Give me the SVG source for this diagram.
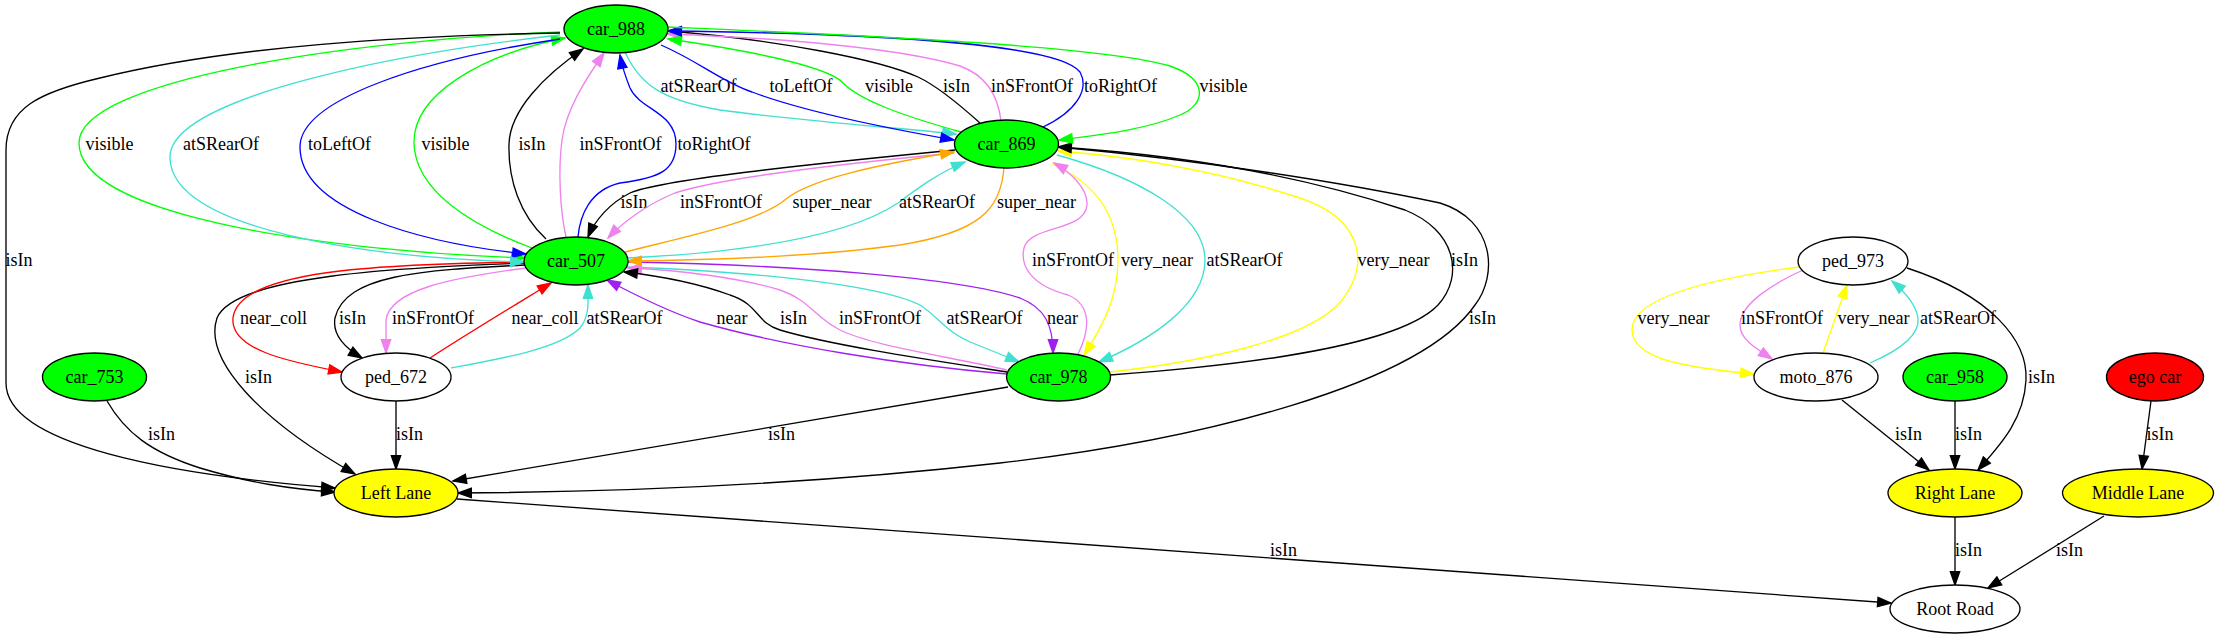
<svg xmlns="http://www.w3.org/2000/svg" width="2218" height="639" viewBox="0 0 2218 639">
<style>
.n ellipse{stroke:#000;stroke-width:1.33}
.t{font-family:"Liberation Serif","Times New Roman",serif;font-size:18px;text-anchor:middle;fill:#000}
.e path{fill:none;stroke-width:1.33}
.k{stroke:#000;marker-end:url(#ak)}
.g{stroke:#00ff00;marker-end:url(#ag)}
.q{stroke:#40e0d0;marker-end:url(#aq)}
.b{stroke:#0000ff;marker-end:url(#ab)}
.v{stroke:#ee82ee;marker-end:url(#av)}
.o{stroke:#ffa500;marker-end:url(#ao)}
.p{stroke:#a020f0;marker-end:url(#ap)}
.r{stroke:#ff0000;marker-end:url(#ar)}
.y{stroke:#ffff00;marker-end:url(#ay)}
</style>
<defs>
<marker id="ak" viewBox="0 0 13.33 9.33" refX="13.33" refY="4.67" markerWidth="13.33" markerHeight="9.33" markerUnits="userSpaceOnUse" orient="auto" overflow="visible"><polygon points="0,0 13.33,4.67 0,9.33" fill="#000" stroke="#000" stroke-width="1.33"/></marker>
<marker id="ag" viewBox="0 0 13.33 9.33" refX="13.33" refY="4.67" markerWidth="13.33" markerHeight="9.33" markerUnits="userSpaceOnUse" orient="auto" overflow="visible"><polygon points="0,0 13.33,4.67 0,9.33" fill="#00ff00" stroke="#00ff00" stroke-width="1.33"/></marker>
<marker id="aq" viewBox="0 0 13.33 9.33" refX="13.33" refY="4.67" markerWidth="13.33" markerHeight="9.33" markerUnits="userSpaceOnUse" orient="auto" overflow="visible"><polygon points="0,0 13.33,4.67 0,9.33" fill="#40e0d0" stroke="#40e0d0" stroke-width="1.33"/></marker>
<marker id="ab" viewBox="0 0 13.33 9.33" refX="13.33" refY="4.67" markerWidth="13.33" markerHeight="9.33" markerUnits="userSpaceOnUse" orient="auto" overflow="visible"><polygon points="0,0 13.33,4.67 0,9.33" fill="#0000ff" stroke="#0000ff" stroke-width="1.33"/></marker>
<marker id="av" viewBox="0 0 13.33 9.33" refX="13.33" refY="4.67" markerWidth="13.33" markerHeight="9.33" markerUnits="userSpaceOnUse" orient="auto" overflow="visible"><polygon points="0,0 13.33,4.67 0,9.33" fill="#ee82ee" stroke="#ee82ee" stroke-width="1.33"/></marker>
<marker id="ao" viewBox="0 0 13.33 9.33" refX="13.33" refY="4.67" markerWidth="13.33" markerHeight="9.33" markerUnits="userSpaceOnUse" orient="auto" overflow="visible"><polygon points="0,0 13.33,4.67 0,9.33" fill="#ffa500" stroke="#ffa500" stroke-width="1.33"/></marker>
<marker id="ap" viewBox="0 0 13.33 9.33" refX="13.33" refY="4.67" markerWidth="13.33" markerHeight="9.33" markerUnits="userSpaceOnUse" orient="auto" overflow="visible"><polygon points="0,0 13.33,4.67 0,9.33" fill="#a020f0" stroke="#a020f0" stroke-width="1.33"/></marker>
<marker id="ar" viewBox="0 0 13.33 9.33" refX="13.33" refY="4.67" markerWidth="13.33" markerHeight="9.33" markerUnits="userSpaceOnUse" orient="auto" overflow="visible"><polygon points="0,0 13.33,4.67 0,9.33" fill="#ff0000" stroke="#ff0000" stroke-width="1.33"/></marker>
<marker id="ay" viewBox="0 0 13.33 9.33" refX="13.33" refY="4.67" markerWidth="13.33" markerHeight="9.33" markerUnits="userSpaceOnUse" orient="auto" overflow="visible"><polygon points="0,0 13.33,4.67 0,9.33" fill="#ffff00" stroke="#ffff00" stroke-width="1.33"/></marker>
</defs>
<rect width="2218" height="639" fill="#fff"/>
<g id="edges" class="e">
<g id="e27"><path class="q" d="M625,52 C640,85 662,100 720,110 C800,121 900,128 956,134"/><text class="t" x="698.5" y="92">atSRearOf</text></g>
<g id="e30"><path class="k" d="M980,123 C960,105 935,85 918,77 C880,60 780,40 668,31"/><text class="t" x="956.5" y="92">isIn</text></g>
<g id="e31"><path class="v" d="M1001,121 C998,95 985,75 960,66 C900,48 780,38 668,34"/><text class="t" x="1032" y="92">inSFrontOf</text></g>
<g id="e14"><path class="y" d="M1110,372 C1200,362 1310,340 1342,300 C1372,262 1360,218 1300,198 C1230,175 1150,158 1058,151"/><text class="t" x="1393.5" y="266">very_near</text></g>
<g id="e40"><path class="g" d="M560,32 C350,40 79,80 79,143 C79,220 350,252 525,258"/><text class="t" x="109.5" y="150">visible</text></g>
<g id="e1"><path class="k" d="M560,33 C400,36 230,46 100,78 C40,92 6,108 6,150 L6,383 C6,445 170,475 335,488"/><text class="t" x="19" y="266">isIn</text></g>
<g id="e2"><path class="k" d="M107,401 C125,432 150,452 200,468 C250,483 290,489 335,492"/><text class="t" x="161.5" y="440">isIn</text></g>
<g id="e3"><path class="k" d="M525,263 C400,268 235,275 217,318 C203,360 260,420 355,474"/><text class="t" x="258.5" y="383">isIn</text></g>
<g id="e4"><path class="r" d="M525,262 C380,264 238,270 233,318 C230,350 290,362 342,372"/><text class="t" x="273.5" y="324">near_coll</text></g>
<g id="e5"><path class="k" d="M525,265 C420,270 345,275 335,318 C332,335 345,348 362,358"/><text class="t" x="352.5" y="324">isIn</text></g>
<g id="e6"><path class="v" d="M526,268 C450,278 390,290 386,320 L386,353"/><text class="t" x="433" y="324">inSFrontOf</text></g>
<g id="e7"><path class="r" d="M430,358 C470,332 520,302 551,283"/><text class="t" x="545" y="324">near_coll</text></g>
<g id="e8"><path class="q" d="M451,368 C505,358 560,348 580,328 C590,316 588,300 588,285"/><text class="t" x="624.5" y="324">atSRearOf</text></g>
<g id="e9"><path class="k" d="M396,401 L396,469"/><text class="t" x="409.5" y="440">isIn</text></g>
<g id="e10"><path class="k" d="M1008,387 L453,481"/><text class="t" x="781.5" y="440">isIn</text></g>
<g id="e11"><path class="k" d="M1058,147 C1200,160 1340,182 1440,203 C1495,220 1498,275 1475,305 C1420,385 1200,440 1000,463 C830,482 640,492 458,493"/><text class="t" x="1482.5" y="324">isIn</text></g>
<g id="e12"><path class="k" d="M1110,375 C1250,365 1400,345 1438,305 C1465,275 1455,230 1405,210 C1300,175 1180,155 1058,147"/><text class="t" x="1464.5" y="266">isIn</text></g>
<g id="e13"><path class="y" d="M1052,164 C1100,185 1118,220 1118,260 C1118,300 1100,330 1084,355"/><text class="t" x="1157" y="266">very_near</text></g>
<g id="e15"><path class="q" d="M1057,155 C1140,178 1205,215 1205,260 C1205,305 1150,340 1099,362"/><text class="t" x="1244.5" y="266">atSRearOf</text></g>
<g id="e16"><path class="v" d="M1078,354 C1090,330 1092,305 1068,295 C1030,285 1020,265 1024,248 C1030,225 1085,232 1087,205 C1088,188 1070,172 1054,163"/><text class="t" x="1073" y="266">inSFrontOf</text></g>
<g id="e17"><path class="p" d="M628,262 C800,265 960,278 1020,298 C1045,308 1053,325 1053,353"/><text class="t" x="1062.5" y="324">near</text></g>
<g id="e18"><path class="q" d="M627,267 C760,272 880,285 920,305 C940,318 945,332 975,344 C990,350 1005,356 1019,362"/><text class="t" x="984.5" y="324">atSRearOf</text></g>
<g id="e19"><path class="v" d="M1007,370 C940,355 870,345 840,330 C815,318 810,300 780,290 C740,278 680,270 628,268"/><text class="t" x="880" y="324">inSFrontOf</text></g>
<g id="e20"><path class="k" d="M1007,372 C930,360 830,345 780,330 C755,322 760,305 730,295 C700,284 660,276 624,272"/><text class="t" x="793.5" y="324">isIn</text></g>
<g id="e21"><path class="p" d="M1007,374 C900,365 780,345 700,322 C670,312 635,295 607,280"/><text class="t" x="732" y="324">near</text></g>
<g id="e22"><path class="k" d="M955,150 C800,165 660,180 630,193 C610,203 595,220 588,237"/><text class="t" x="634" y="208">isIn</text></g>
<g id="e23"><path class="v" d="M954,153 C850,163 720,178 675,193 C650,203 625,220 608,238"/><text class="t" x="721" y="208">inSFrontOf</text></g>
<g id="e24"><path class="o" d="M625,252 C680,238 760,222 786,199 C810,180 870,166 954,152"/><text class="t" x="832" y="208">super_near</text></g>
<g id="e25"><path class="q" d="M627,258 C750,252 850,235 898,203 C918,188 940,172 965,162"/><text class="t" x="937" y="208">atSRearOf</text></g>
<g id="e26"><path class="o" d="M1004,168 C1000,210 980,232 900,245 C820,256 720,260 628,261"/><text class="t" x="1036.5" y="208">super_near</text></g>
<g id="e28"><path class="b" d="M661,45 C700,62 722,82 752,92 C800,110 880,127 954,140"/><text class="t" x="801" y="92">toLeftOf</text></g>
<g id="e29"><path class="g" d="M961,132 C900,115 860,100 843,83 C830,68 760,52 668,39"/><text class="t" x="889" y="92">visible</text></g>
<g id="e32"><path class="b" d="M1043,127 C1075,112 1090,90 1080,72 C1060,45 900,34 668,31"/><text class="t" x="1120.5" y="92">toRightOf</text></g>
<g id="e33"><path class="g" d="M667,27 C850,35 1100,45 1170,66 C1210,80 1205,105 1180,115 C1150,128 1110,134 1059,140"/><text class="t" x="1223.5" y="92">visible</text></g>
<g id="e34"><path class="k" d="M546,239 C520,215 508,180 509,144 C510,110 545,75 583,49"/><text class="t" x="532" y="150">isIn</text></g>
<g id="e35"><path class="v" d="M566,237 C560,210 558,170 562,140 C566,110 585,80 604,53"/><text class="t" x="620.5" y="150">inSFrontOf</text></g>
<g id="e36"><path class="b" d="M578,237 C580,215 590,190 620,183 C660,178 676,170 676,144 C676,112 640,110 630,88 C626,78 622,66 620,55"/><text class="t" x="714" y="150">toRightOf</text></g>
<g id="e37"><path class="g" d="M532,248 C470,225 415,190 414,143 C413,95 480,55 565,38"/><text class="t" x="445.5" y="150">visible</text></g>
<g id="e38"><path class="b" d="M560,39 C420,60 300,100 300,147 C300,210 420,243 526,254"/><text class="t" x="339.5" y="150">toLeftOf</text></g>
<g id="e39"><path class="q" d="M560,35 C380,55 170,100 170,157 C170,230 370,258 524,262"/><text class="t" x="221" y="150">atSRearOf</text></g>
<g id="e41"><path class="y" d="M1799,267 C1700,280 1632,300 1632,330 C1632,360 1690,368 1754,374"/><text class="t" x="1673.5" y="324">very_near</text></g>
<g id="e42"><path class="v" d="M1803,270 C1770,285 1740,305 1740,325 C1740,338 1752,346 1772,359"/><text class="t" x="1782" y="324">inSFrontOf</text></g>
<g id="e43"><path class="y" d="M1823,353 L1847,285"/><text class="t" x="1873.5" y="324">very_near</text></g>
<g id="e44"><path class="q" d="M1870,363 C1900,350 1920,335 1918,318 C1916,305 1905,292 1892,281"/><text class="t" x="1958" y="324">atSRearOf</text></g>
<g id="e45"><path class="k" d="M1907,268 C1990,295 2028,340 2026,380 C2024,420 2000,445 1978,470"/><text class="t" x="2041.5" y="383">isIn</text></g>
<g id="e46"><path class="k" d="M1842,400 L1929,470"/><text class="t" x="1908.5" y="440">isIn</text></g>
<g id="e47"><path class="k" d="M1955,401 L1955,469"/><text class="t" x="1968.5" y="440">isIn</text></g>
<g id="e48"><path class="k" d="M2151,401 L2142,469"/><text class="t" x="2160" y="440">isIn</text></g>
<g id="e49"><path class="k" d="M1955,517 L1955,585"/><text class="t" x="1968.5" y="556">isIn</text></g>
<g id="e50"><path class="k" d="M2104,516 L1988,588"/><text class="t" x="2069.5" y="556">isIn</text></g>
<g id="e51"><path class="k" d="M457,499 L1891,603"/><text class="t" x="1283.5" y="556">isIn</text></g>
</g>
<g id="car_988" class="n"><ellipse cx="616" cy="29" rx="52" ry="24" fill="#00ff00"/><text class="t" x="616" y="35">car_988</text></g>
<g id="car_869" class="n"><ellipse cx="1006.5" cy="144" rx="52" ry="24" fill="#00ff00"/><text class="t" x="1006.5" y="150">car_869</text></g>
<g id="car_507" class="n"><ellipse cx="576" cy="261" rx="52" ry="24" fill="#00ff00"/><text class="t" x="576" y="267">car_507</text></g>
<g id="ped_973" class="n"><ellipse cx="1853" cy="261" rx="55" ry="24" fill="#fff"/><text class="t" x="1853" y="267">ped_973</text></g>
<g id="car_978" class="n"><ellipse cx="1058.5" cy="377" rx="52" ry="24" fill="#00ff00"/><text class="t" x="1058.5" y="383">car_978</text></g>
<g id="ped_672" class="n"><ellipse cx="396" cy="377" rx="55" ry="24" fill="#fff"/><text class="t" x="396" y="383">ped_672</text></g>
<g id="car_753" class="n"><ellipse cx="94.5" cy="377" rx="52" ry="24" fill="#00ff00"/><text class="t" x="94.5" y="383">car_753</text></g>
<g id="moto_876" class="n"><ellipse cx="1816" cy="377" rx="62" ry="24" fill="#fff"/><text class="t" x="1816" y="383">moto_876</text></g>
<g id="car_958" class="n"><ellipse cx="1955" cy="377" rx="52" ry="24" fill="#00ff00"/><text class="t" x="1955" y="383">car_958</text></g>
<g id="ego_car" class="n"><ellipse cx="2155" cy="377" rx="48.5" ry="24" fill="#ff0000"/><text class="t" x="2155" y="383">ego car</text></g>
<g id="left_lane" class="n"><ellipse cx="396" cy="493" rx="62" ry="24" fill="#ffff00"/><text class="t" x="396" y="499">Left Lane</text></g>
<g id="right_lane" class="n"><ellipse cx="1955" cy="493" rx="67" ry="24" fill="#ffff00"/><text class="t" x="1955" y="499">Right Lane</text></g>
<g id="middle_lane" class="n"><ellipse cx="2138" cy="493" rx="75.5" ry="24" fill="#ffff00"/><text class="t" x="2138" y="499">Middle Lane</text></g>
<g id="root_road" class="n"><ellipse cx="1955" cy="609" rx="65" ry="24" fill="#fff"/><text class="t" x="1955" y="615">Root Road</text></g>
</svg>
